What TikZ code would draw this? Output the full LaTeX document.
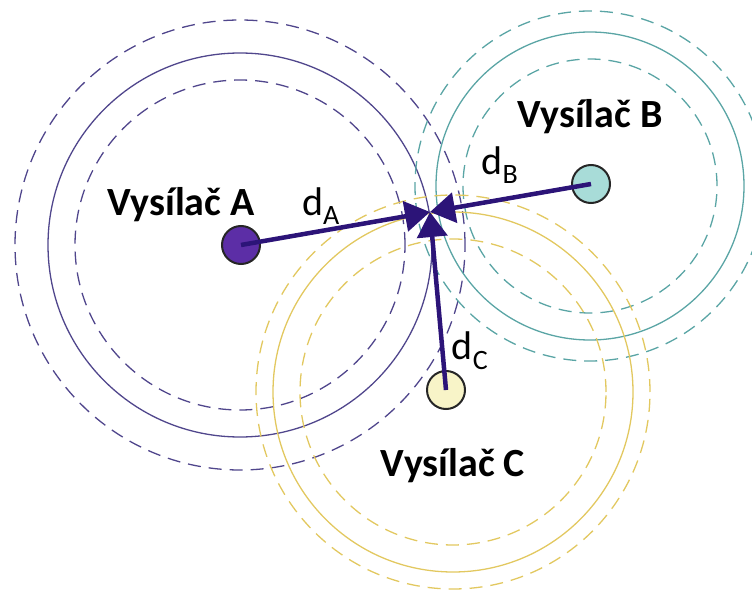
\documentclass[tikz,border=0pt]{standalone}
\usepackage{fontspec}
\setmainfont{Carlito}
\usepackage{tikz}
\usetikzlibrary{arrows.meta,positioning}
\definecolor{ringA}{RGB}{80,70,140}
\definecolor{ringB}{RGB}{90,165,165}
\definecolor{ringC}{RGB}{226,200,96}
\definecolor{dotA}{RGB}{92,46,166}
\definecolor{dotB}{RGB}{168,220,216}
\definecolor{dotC}{RGB}{248,244,200}
\definecolor{arrowcol}{RGB}{44,20,120}

\begin{document}
\begin{tikzpicture}[x=1pt,y=-1pt,
  ring/.style={line width=1.3pt},
  dashring/.style={line width=1.3pt,dash pattern=on 13pt off 8pt},
  station/.style={circle,draw=black!85,line width=2pt,minimum size=38pt,inner sep=0pt},
  rangearrow/.style={-{Triangle[length=25pt,width=30pt]},line width=4.5pt,draw=arrowcol,fill=arrowcol},
  stationlabel/.style={font=\fontsize{40}{44}\selectfont\bfseries},
  distlabel/.style={font=\fontsize{40}{44}\selectfont}]
			\useasboundingbox (0,0) rectangle (752,596);
			
			\draw[ringA,dashring] (240,245) circle (225pt);
			\draw[ringA,ring] (240,245) circle (192pt);
			\draw[ringA,dashring] (240,245) circle (165pt);
			
			\draw[ringB,dashring] (590,186) circle (175pt);
			\draw[ringB,ring] (590,186) circle (154pt);
			\draw[ringB,dashring] (590,186) circle (127pt);
			
			\draw[ringC,dashring] (453,392) circle (197pt);
			\draw[ringC,ring] (453,392) circle (180pt);
			\draw[ringC,dashring] (453,392) circle (153pt);
			
			\node[station,fill=dotA] (A) at (241,245) {};
			\node[station,fill=dotB] (B) at (591,184) {};
			\node[station,fill=dotC] (C) at (446,390) {};
			\coordinate (T) at (430,212);
			
			\draw[rangearrow] (A.center) -- (T);
			\draw[rangearrow] (B.center) -- (T);
			\draw[rangearrow] (C.center) -- (T);
			
			\node[stationlabel] (nameA) at (181,205) {Vysílač A};
			\node[stationlabel] (nameB) at (590,117) {Vysílač B};
			\node[stationlabel] (nameC) at (453,466) {Vysílač C};
			
			\node[distlabel] (dA) at (321,206) {d\textsubscript{A}};
			\node[distlabel] (dB) at (500,165) {d\textsubscript{B}};
			\node[distlabel] (dC) at (470,351) {d\textsubscript{C}};
			
		\end{tikzpicture}
\end{document}
